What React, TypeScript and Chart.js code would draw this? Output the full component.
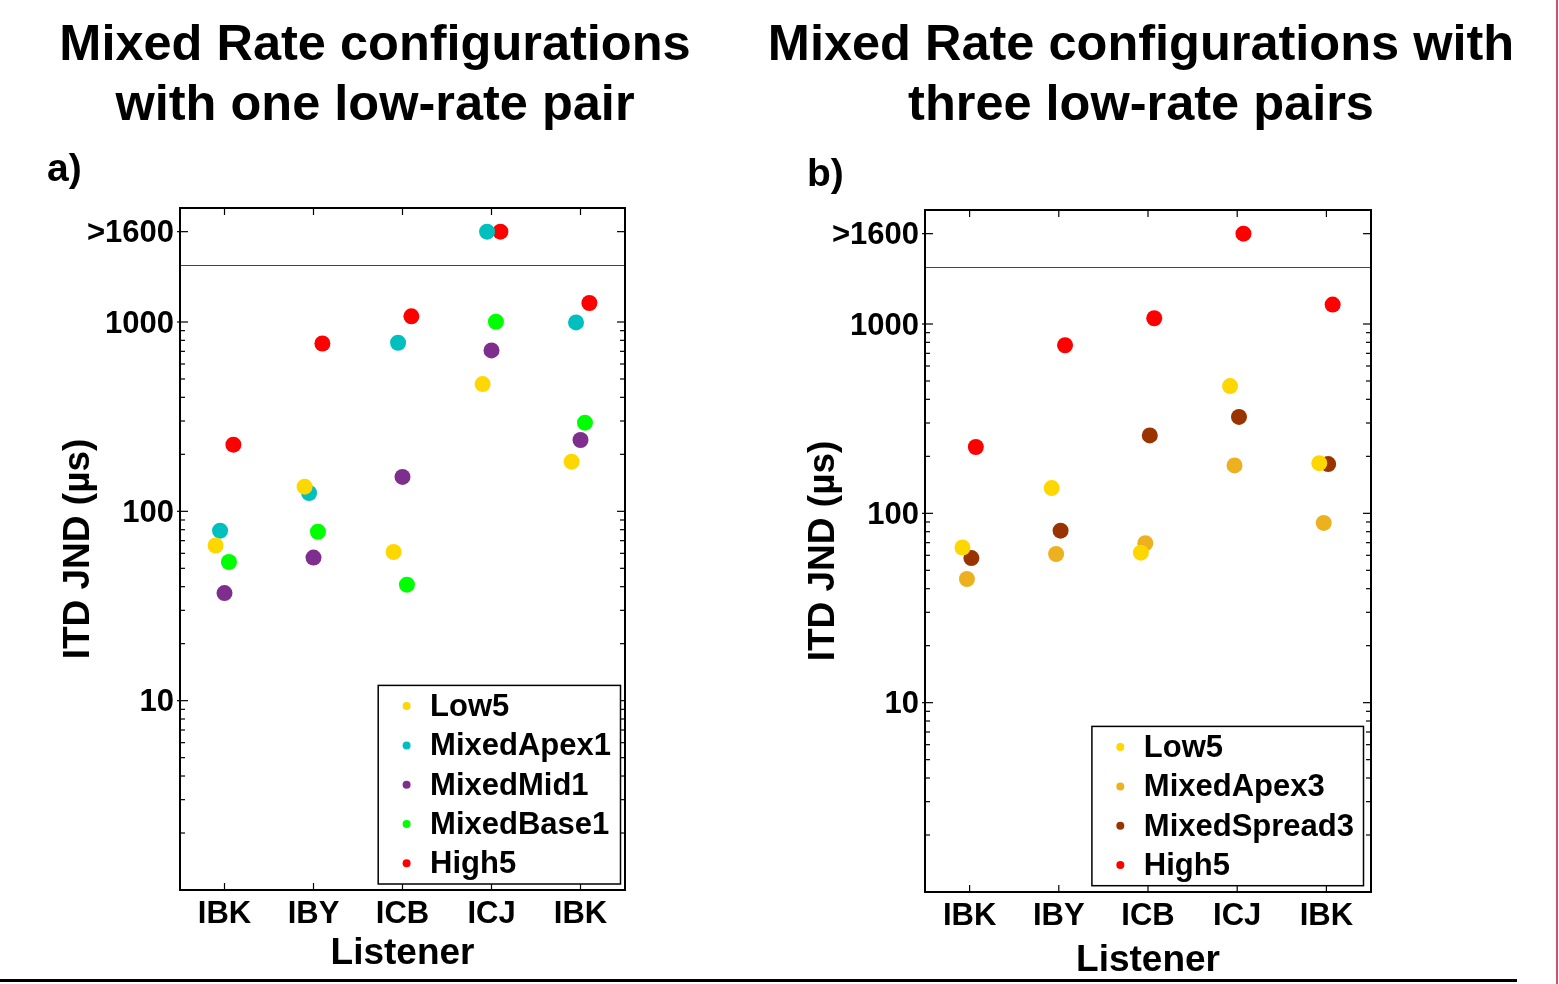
import React, { useEffect, useRef } from "react";
import { Chart, registerables } from "chart.js";

Chart.register(...registerables);

const FONT = "'Liberation Sans', Arial, Helvetica, sans-serif";

// ---------- shared axis data ----------
const listeners = ["IBK", "IBY", "ICB", "ICJ", "IBK"];
const ABOVE = 3000; // plotted position of the ">1600" category
const breakValue = 2000; // horizontal separator line
const yTickValues = [10, 100, 1000, ABOVE];
const yTickLabels = ["10", "100", "1000", ">1600"];
const yMinorTicks = [2, 3, 4, 5, 6, 7, 8, 9, 20, 30, 40, 50, 60, 70, 80, 90, 200, 300, 400, 500, 600, 700, 800, 900];

// ---------- panel a ----------
const seriesA = ["Low5", "MixedApex1", "MixedMid1", "MixedBase1", "High5"];
const low5A = [66, 135, 61, 470, 183];
const apex1A = [79, 125, 777, ABOVE, 995];
const mid1A = [37, 57, 152, 708, 238];
const base1A = [54, 78, 41, 1003, 294];
const high5A = [225, 770, 1071, ABOVE, 1260];
const colorsA = ["#FFD700", "#00BFBF", "#7E2F8E", "#00FF00", "#FF0000"];
const offsetsA = [-0.1, -0.05, 0, 0.05, 0.1];

// ---------- panel b ----------
const seriesB = ["Low5", "MixedApex3", "MixedSpread3", "High5"];
const low5B = [66, 136, 62, 470, 184];
const apex3B = [45, 61, 69.5, 179, 89];
const spread3B = [58, 81, 258, 323, 182];
const high5B = [224, 772, 1072, ABOVE, 1266];
const colorsB = ["#FFD700", "#EDB120", "#993300", "#FF0000"];
const offsetsB = [-0.08, -0.03, 0.02, 0.07];

const framePlugin = {
  id: "frame",
  beforeDatasetsDraw(chart: any) {
    const { ctx, chartArea, scales } = chart;
    const { left, right, top, bottom } = chartArea;
    const x = scales.x;
    const y = scales.y;
    const seg = (x1: number, y1: number, x2: number, y2: number) => {
      ctx.beginPath();
      ctx.moveTo(x1, y1);
      ctx.lineTo(x2, y2);
      ctx.stroke();
    };
    ctx.save();
    ctx.strokeStyle = "#444";
    ctx.lineWidth = 1;
    const by = Math.round(y.getPixelForValue(breakValue)) + 0.5;
    seg(left, by, right, by);
    ctx.strokeStyle = "#000";
    ctx.lineWidth = 1.2;
    for (const v of yMinorTicks) {
      const py = y.getPixelForValue(v);
      seg(left, py, left + 5, py);
      seg(right, py, right - 5, py);
    }
    for (const v of yTickValues) {
      const py = y.getPixelForValue(v);
      seg(left - 3, py, left + 8, py);
      seg(right, py, right - 8, py);
    }
    listeners.forEach((_, i) => {
      const px = x.getPixelForValue(i + 1);
      seg(px, bottom, px, bottom - 7);
      seg(px, top, px, top + 7);
    });
    ctx.lineWidth = 2;
    ctx.strokeRect(left, top, right - left, bottom - top);
    ctx.restore();
  },
};

const insetLegendPlugin = {
  id: "insetLegend",
  afterDraw(chart: any, _args: any, opts: any) {
    const { ctx, chartArea } = chart;
    const ds = chart.data.datasets;
    ctx.save();
    ctx.font = `bold ${opts.fontSize}px ${FONT}`;
    const maxW = Math.max(...ds.map((d: any) => ctx.measureText(d.label).width));
    const w = opts.markerInset + opts.textGap + maxW + opts.rightPad;
    const h = opts.padY * 2 + opts.rowHeight * (ds.length - 1);
    const x0 = chartArea.right - opts.offsetRight - w;
    const y0 = chartArea.bottom - opts.offsetBottom - h;
    ctx.fillStyle = "#fff";
    ctx.fillRect(x0, y0, w, h);
    ctx.strokeStyle = "#000";
    ctx.lineWidth = 1.5;
    ctx.strokeRect(x0, y0, w, h);
    ds.forEach((d: any, i: number) => {
      const cy = y0 + opts.padY + i * opts.rowHeight;
      ctx.beginPath();
      ctx.arc(x0 + opts.markerInset, cy, opts.markerRadius, 0, Math.PI * 2);
      ctx.fillStyle = d.backgroundColor;
      ctx.fill();
      ctx.fillStyle = "#000";
      ctx.textAlign = "left";
      ctx.textBaseline = "middle";
      ctx.fillText(d.label, x0 + opts.markerInset + opts.textGap, cy + 1.5);
    });
    ctx.restore();
  },
};

type Panel = {
  names: string[];
  values: number[][];
  colors: string[];
  offsets: number[];
  width: number;
  padTop: number;
  padRight: number;
  yAxisWidth: number;
  xAxisHeight: number;
  xTitlePad: number;
  yTitlePad: number;
  legendOffsetRight: number;
  legendOffsetBottom: number;
};

function buildConfig(p: Panel): any {
  return {
    type: "scatter",
    data: {
      datasets: p.names.map((name, i) => ({
        label: name,
        data: p.values[i].map((v, j) => ({ x: j + 1 + p.offsets[i], y: v })),
        backgroundColor: p.colors[i],
        borderWidth: 0,
        pointRadius: 8,
        pointHoverRadius: 8,
      })),
    },
    options: {
      responsive: false,
      animation: false,
      events: [],
      layout: { padding: { top: p.padTop, left: 0, right: p.padRight, bottom: 0 } },
      plugins: {
        legend: { display: false },
        tooltip: { enabled: false },
        insetLegend: {
          fontSize: 31,
          rowHeight: 39.3,
          padY: 20.7,
          markerInset: 28.4,
          textGap: 23.5,
          rightPad: 9.5,
          markerRadius: 4,
          offsetRight: p.legendOffsetRight,
          offsetBottom: p.legendOffsetBottom,
        },
      },
      scales: {
        x: {
          type: "linear",
          min: 0.5,
          max: 5.5,
          grid: { display: false, drawTicks: false },
          border: { display: false },
          afterBuildTicks: (s: any) => {
            s.ticks = listeners.map((_, i) => ({ value: i + 1 }));
          },
          afterFit: (s: any) => {
            s.height = p.xAxisHeight;
          },
          ticks: {
            autoSkip: false,
            maxRotation: 0,
            padding: 6,
            color: "#000",
            font: { family: FONT, size: 31, weight: "bold" },
            callback: (_v: any, i: number) => listeners[i],
          },
          title: {
            display: true,
            text: "Listener",
            color: "#000",
            font: { family: FONT, size: 37, weight: "bold" },
            padding: { top: 0, bottom: p.xTitlePad },
          },
        },
        y: {
          type: "logarithmic",
          min: 1,
          max: 4000,
          grid: { display: false, drawTicks: false },
          border: { display: false },
          afterBuildTicks: (s: any) => {
            s.ticks = yTickValues.map((v) => ({ value: v }));
          },
          afterFit: (s: any) => {
            s.width = p.yAxisWidth;
          },
          ticks: {
            autoSkip: false,
            padding: 6,
            labelOffset: 2,
            color: "#000",
            font: { family: FONT, size: 31, weight: "bold" },
            callback: (v: any) => {
              const k = yTickValues.indexOf(Number(v));
              return k >= 0 ? yTickLabels[k] : "";
            },
          },
          title: {
            display: true,
            text: "ITD JND (µs)",
            color: "#000",
            font: { family: FONT, size: 37, weight: "bold" },
            padding: { top: p.yTitlePad, bottom: 0 },
          },
        },
      },
    },
    plugins: [framePlugin, insetLegendPlugin],
  };
}

function PanelChart({ panel, left }: { panel: Panel; left: number }) {
  const ref = useRef<HTMLCanvasElement | null>(null);
  useEffect(() => {
    if (!ref.current) return;
    const chart = new Chart(ref.current, buildConfig(panel));
    return () => chart.destroy();
  }, [panel]);
  return (
    <canvas
      ref={ref}
      width={panel.width}
      height={984}
      style={{ position: "absolute", left, top: 0, width: panel.width, height: 984, display: "block" }}
    />
  );
}

const panelA: Panel = {
  names: seriesA,
  values: [low5A, apex1A, mid1A, base1A, high5A],
  colors: colorsA,
  offsets: offsetsA,
  width: 760,
  padTop: 208,
  padRight: 135,
  yAxisWidth: 180,
  xAxisHeight: 94,
  xTitlePad: 8,
  yTitlePad: 57,
  legendOffsetRight: 4.5,
  legendOffsetBottom: 6,
};

const panelB: Panel = {
  names: seriesB,
  values: [low5B, apex3B, spread3B, high5B],
  colors: colorsB,
  offsets: offsetsB,
  width: 799,
  padTop: 210,
  padRight: 188,
  yAxisWidth: 165,
  xAxisHeight: 92,
  xTitlePad: 1,
  yTitlePad: 42,
  legendOffsetRight: 7.5,
  legendOffsetBottom: 6.3,
};

const titleStyle: React.CSSProperties = {
  position: "absolute",
  top: 13,
  fontSize: 50.5,
  lineHeight: "60px",
  fontWeight: "bold",
  textAlign: "center",
  color: "#000",
  whiteSpace: "nowrap",
};

const letterStyle: React.CSSProperties = {
  position: "absolute",
  fontSize: 39,
  lineHeight: "39px",
  fontWeight: "bold",
  color: "#000",
};

export default function App() {
  return (
    <div
      style={{
        position: "absolute",
        left: 0,
        top: 0,
        width: 1559,
        height: 984,
        background: "#fff",
        fontFamily: FONT,
        overflow: "hidden",
      }}
    >
      <PanelChart panel={panelA} left={0} />
      <PanelChart panel={panelB} left={760} />
      <div style={{ ...titleStyle, left: -25, width: 800 }}>
        Mixed Rate configurations
        <br />
        with one low-rate pair
      </div>
      <div style={{ ...titleStyle, left: 741, width: 800 }}>
        Mixed Rate configurations with
        <br />
        three low-rate pairs
      </div>
      <div style={{ ...letterStyle, left: 47, top: 148 }}>a)</div>
      <div style={{ ...letterStyle, left: 807, top: 153 }}>b)</div>
      <div style={{ position: "absolute", left: 0, top: 979, width: 1517, height: 3, background: "#000" }} />
      <div style={{ position: "absolute", left: 1556, top: 0, width: 2, height: 984, background: "#D0506E" }} />
    </div>
  );
}
